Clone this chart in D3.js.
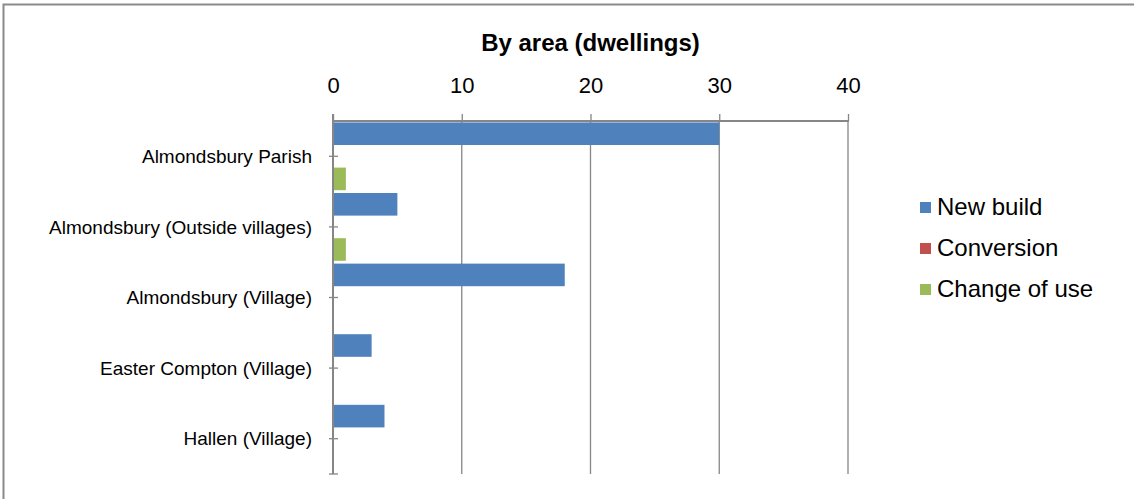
<!DOCTYPE html>
<html>
<head>
<meta charset="utf-8">
<script src="https://cdn.jsdelivr.net/npm/d3@7"></script>
<style>
  html, body { margin: 0; padding: 0; background: #fff; }
  svg { display: block; }
  text { font-family: "Liberation Sans", Arial, sans-serif; fill: #000; }
</style>
</head>
<body>
<svg id="chart" width="1134" height="499"></svg>
<script>
const title = "By area (dwellings)";
const categories = [
  "Almondsbury Parish",
  "Almondsbury (Outside villages)",
  "Almondsbury (Village)",
  "Easter Compton (Village)",
  "Hallen (Village)"
];
const seriesNames = ["New build", "Conversion", "Change of use"];
const seriesColors = ["#4F81BD", "#C0504D", "#9BBB59"];
const newBuild = [30, 5, 18, 3, 4];
const conversion = [0, 0, 0, 0, 0];
const changeOfUse = [1, 1, 0, 0, 0];
const xTicks = [0, 10, 20, 30, 40];

const seriesValues = [newBuild, conversion, changeOfUse];
const rows = categories.map((c, i) => ({
  cat: c,
  vals: seriesNames.map((s, j) => ({ series: s, value: seriesValues[j][i], color: seriesColors[j] }))
}));

const svg = d3.select("#chart");
const axisColor = "#868686";

// outer frame
svg.append("path")
  .attr("d", "M3.5,499 L3.5,4.5 L1134,4.5")
  .attr("fill", "none").attr("stroke", "#8a8a8a").attr("stroke-width", 2);

const plotTop = 121, plotBottom = 474, plotLeft = 333, plotRight = 848;

const x = d3.scaleLinear().domain([0, 40]).range([plotLeft, plotRight]);
const y0 = d3.scaleBand().domain(categories).range([plotTop, plotBottom])
  .paddingInner(0.04).paddingOuter(0.02);
const y1 = d3.scaleBand().domain(seriesNames).range([0, y0.bandwidth()]);

// title
svg.append("text")
  .attr("x", 590.5).attr("y", 51)
  .attr("text-anchor", "middle")
  .attr("font-weight", "bold")
  .attr("font-size", 24)
  .text(title);

// gridlines
svg.append("g").selectAll("line")
  .data(xTicks.filter(t => t !== 0))
  .join("line")
  .attr("x1", d => x(d)).attr("x2", d => x(d))
  .attr("y1", plotTop).attr("y2", plotBottom)
  .attr("stroke", axisColor).attr("stroke-width", 1.3);

// top axis
const xAxis = d3.axisTop(x).tickValues(xTicks).tickSize(7).tickPadding(21).tickFormat(d3.format("d"));
const gx = svg.append("g").attr("transform", `translate(0,${plotTop})`).call(xAxis);
gx.select(".domain").attr("stroke", axisColor).attr("stroke-width", 2)
  .attr("d", `M${plotLeft},0H${plotRight + 1}`);
gx.selectAll(".tick line").attr("stroke", axisColor).attr("stroke-width", 1.3);
gx.selectAll(".tick text")
  .attr("font-size", 22)
  .attr("font-family", "'Liberation Sans', Arial, sans-serif")
  .attr("fill", "#000");

// bars
const groups = svg.append("g").selectAll("g")
  .data(rows).join("g")
  .attr("transform", d => `translate(0,${y0(d.cat)})`);
groups.selectAll("rect")
  .data(d => d.vals.filter(v => v.value > 0))
  .join("rect")
  .attr("x", x(0))
  .attr("y", d => y1(d.series))
  .attr("width", d => x(d.value) - x(0))
  .attr("height", y1.bandwidth())
  .attr("fill", d => d.color);

// category axis line
svg.append("line")
  .attr("x1", plotLeft).attr("x2", plotLeft)
  .attr("y1", plotTop - 7).attr("y2", plotBottom)
  .attr("stroke", axisColor).attr("stroke-width", 2);

// category ticks at band centres + bottom end
const tickYs = categories.map(c => y0(c) + y0.bandwidth() / 2).concat([plotBottom]);
svg.append("g").selectAll("line")
  .data(tickYs).join("line")
  .attr("x1", plotLeft - 4).attr("x2", plotLeft + 5)
  .attr("y1", d => d).attr("y2", d => d)
  .attr("stroke", axisColor).attr("stroke-width", 1.3);

// category labels
svg.append("g").selectAll("text")
  .data(categories).join("text")
  .attr("x", 312)
  .attr("y", d => y0(d) + y0.bandwidth() / 2)
  .attr("dy", "0.35em")
  .attr("text-anchor", "end")
  .attr("font-size", 19)
  .text(d => d);

// legend
const legend = svg.append("g").attr("transform", "translate(920,202)");
const li = legend.selectAll("g").data(seriesNames).join("g")
  .attr("transform", (d, i) => `translate(0,${i * 41})`);
li.append("rect").attr("width", 11).attr("height", 11)
  .attr("fill", (d, i) => seriesColors[i]);
li.append("text").attr("x", 17).attr("y", 13)
  .attr("font-size", 24)
  .text(d => d);
</script>
</body>
</html>
